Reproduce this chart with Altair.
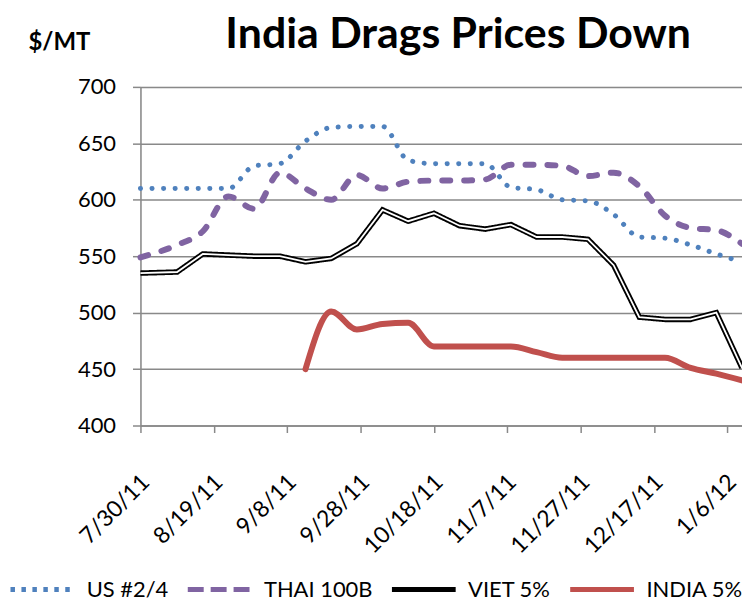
import altair as alt
import pandas as pd

# ---- data ----
dates = ["2011-07-30", "2011-08-09", "2011-08-16", "2011-08-23", "2011-08-30",
         "2011-09-06", "2011-09-13", "2011-09-20", "2011-09-27", "2011-10-04",
         "2011-10-11", "2011-10-18", "2011-10-25", "2011-11-01", "2011-11-08",
         "2011-11-15", "2011-11-22", "2011-11-29", "2011-12-06", "2011-12-13",
         "2011-12-20", "2011-12-27", "2012-01-03", "2012-01-10"]

us = [610, 610, 610, 610, 630, 632, 652, 664, 665, 665, 635, 632,
      632, 632, 611, 609, 600, 599, 587, 567, 566, 560, 552, 545]
thai = [549, 560, 572, 603, 592, 624, 610, 600, 622, 610, 616, 617,
        617, 618, 631, 631, 630, 621, 624, 612, 586, 575, 573, 561]
viet = [535, 536, 552, 551, 550, 550, 545, 548, 561, 591, 581, 588,
        577, 574, 578, 567, 567, 565, 542, 496, 494, 494, 500, 451]
india = [None, None, None, None, None, None, 450, 501, 485, 490, 491, 470,
         470, 470, 470, 465, 460, 460, 460, 460, 460, 451, 446, 440]

series_names = ["US #2/4", "THAI 100B", "VIET 5%", "INDIA 5%"]
series_colors = ["#4F81BD", "#8064A2", "#000000", "#C0504D"]
# dash patterns shown in the legend keys
legend_dash = [[4.5, 6.5], [16, 7], [1, 0], [1, 0]]
# dash patterns of the plotted lines (round caps)
us_line_dash = [0.1, 11.5]
thai_line_dash = [8, 14]

y_ticks = [400, 450, 500, 550, 600, 650, 700]
x_tick_dates = [(2011, 7, 30), (2011, 8, 19), (2011, 9, 8), (2011, 9, 28),
                (2011, 10, 18), (2011, 11, 7), (2011, 11, 27), (2011, 12, 17),
                (2012, 1, 6)]
x_domain = [(2011, 7, 30), (2012, 1, 10)]

title_text = "India Drags Prices Down"
y_title = "$/MT"

# ---- build table ----
rows = []
for name, vals in zip(series_names, [us, thai, viet, india]):
    for d, v in zip(dates, vals):
        if v is not None:
            rows.append({"date": d + "T00:00:00", "series": name, "price": v})
df = pd.DataFrame(rows)


def dt(t):
    return alt.DateTime(year=t[0], month=t[1], date=t[2])


FONT = "Lato"

x_enc = alt.X(
    "date:T",
    scale=alt.Scale(domain=[dt(t) for t in x_domain], nice=False),
    axis=alt.Axis(
        values=[dt(t) for t in x_tick_dates],
        format="%-m/%-d/%y",
        title=None,
        grid=False,
        labelAngle=-45,
        labelAlign="right",
        labelBaseline="middle",
        labelPadding=46,
        labelOffset=5,
        labelFontSize=23,
        labelFont=FONT,
        labelColor="#000000",
        tickSize=7,
        tickWidth=1.5,
        tickColor="#898989",
        domainColor="#898989",
        domainWidth=1.5,
        labelOverlap=False,
        labelFlush=False,
    ),
)

y_enc = alt.Y(
    "price:Q",
    scale=alt.Scale(domain=[400, 700], nice=False, zero=False),
    axis=alt.Axis(
        values=y_ticks,
        title=y_title,
        titleAngle=0,
        titleAlign="left",
        titleBaseline="middle",
        titleX=-113,
        titleY=-45,
        titleFont=FONT,
        titleFontSize=24,
        titleFontWeight="bold",
        titleColor="#000000",
        labelFontSize=22,
        labelFont=FONT,
        labelColor="#000000",
        labelPadding=17,
        tickSize=8,
        tickWidth=1.5,
        tickColor="#898989",
        domainColor="#898989",
        domainWidth=1.5,
        grid=True,
        gridColor="#898989",
        gridWidth=1.5,
    ),
)

legend = alt.Legend(
    title=None,
    orient="none",
    legendX=-133,
    legendY=470,
    direction="horizontal",
    columns=4,
    symbolType="stroke",
    symbolSize=4096,
    symbolStrokeWidth=5,
    labelFont=FONT,
    labelFontSize=22,
    labelColor="#000000",
    labelOffset=10,
    columnPadding=9,
    padding=0,
)

color_enc = alt.Color("series:N", scale=alt.Scale(domain=series_names, range=series_colors), legend=legend)
dash_enc = alt.StrokeDash("series:N", scale=alt.Scale(domain=series_names, range=legend_dash), legend=legend)

base = alt.Chart(df)

us_layer = base.transform_filter(alt.datum.series == series_names[0]).mark_line(
    interpolate="monotone", strokeWidth=5, strokeCap="round", strokeDash=us_line_dash
).encode(x=x_enc, y=y_enc, color=color_enc)

thai_layer = base.transform_filter(alt.datum.series == series_names[1]).mark_line(
    interpolate="monotone", strokeWidth=6, strokeCap="round", strokeDash=thai_line_dash
).encode(x=x_enc, y=y_enc, color=color_enc)

viet_outer = base.transform_filter(alt.datum.series == series_names[2]).mark_line(
    strokeWidth=5.5, strokeJoin="miter"
).encode(x=x_enc, y=y_enc, color=color_enc, strokeDash=dash_enc)

viet_inner = base.transform_filter(alt.datum.series == series_names[2]).mark_line(
    strokeWidth=1.8, color="#ffffff", strokeJoin="miter"
).encode(x=x_enc, y=y_enc)

india_layer = base.transform_filter(alt.datum.series == series_names[3]).mark_line(
    interpolate="monotone", strokeWidth=6, strokeCap="round"
).encode(x=x_enc, y=y_enc, color=color_enc)

chart = alt.layer(
    india_layer, viet_outer, viet_inner, thai_layer, us_layer
).properties(
    width=604,
    height=340,
    title=alt.TitleParams(
        title_text,
        font=FONT,
        fontSize=43,
        fontWeight="bold",
        color="#000000",
        anchor="middle",
        offset=10,
        dx=17,
        dy=37,
    ),
    autosize=alt.AutoSizeParams(type="none"),
    padding={"left": 133, "top": 78, "right": 0, "bottom": 175},
).configure_view(stroke=None).configure(background="#ffffff")

chart.save("out.html", embed_options={"renderer": "svg", "actions": False})
